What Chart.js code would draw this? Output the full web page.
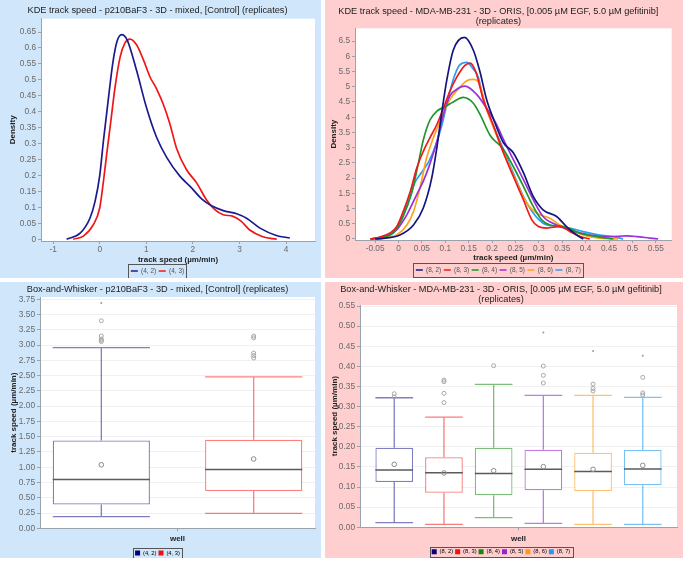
<!DOCTYPE html>
<html>
<head>
<meta charset="utf-8">
<script src="https://cdn.jsdelivr.net/npm/chart.js@4.4.1/dist/chart.umd.min.js"></script>
<style>
  body { margin: 0; width: 685px; height: 561px; background: #fff; position: relative; overflow: hidden; }
  .panel { position: absolute; }
  .blue { background: #cfe6fb; }
  .pink { background: #ffcece; }
  canvas { display: block; }
</style>
</head>
<body>
<div class="panel blue" style="left:0;top:0;width:321px;height:278px"><canvas id="kdeA" width="321" height="278"></canvas></div>
<div class="panel pink" style="left:325px;top:0;width:358px;height:278px"><canvas id="kdeB" width="358" height="278"></canvas></div>
<div class="panel blue" style="left:0;top:282px;width:321px;height:276px"><canvas id="boxA" width="321" height="276"></canvas></div>
<div class="panel pink" style="left:325px;top:282px;width:358px;height:276px"><canvas id="boxB" width="358" height="276"></canvas></div>
<script>
// ---------- data ----------
// KDE p210BaF3
const kdeA_wells = ['(4, 2)', '(4, 3)'];
const kdeA_x42 = [-0.71, -0.42, -0.21, -0.10, 0.0, 0.08, 0.19, 0.28, 0.37, 0.47, 0.59, 0.79, 1.0, 1.22, 1.44, 1.72, 1.94, 2.2, 2.4, 2.65, 2.94, 3.15, 3.44, 3.79, 4.08];
const kdeA_y42 = [0, 0.019, 0.066, 0.119, 0.2, 0.309, 0.446, 0.552, 0.62, 0.642, 0.625, 0.53, 0.415, 0.32, 0.256, 0.198, 0.166, 0.125, 0.105, 0.09, 0.08, 0.066, 0.035, 0.012, 0.004];
const kdeA_x43 = [-0.57, -0.35, -0.14, 0.0, 0.08, 0.15, 0.24, 0.33, 0.44, 0.54, 0.65, 0.79, 0.94, 1.08, 1.22, 1.36, 1.5, 1.65, 1.86, 2.08, 2.29, 2.47, 2.65, 2.86, 3.04, 3.22, 3.5, 3.8];
const kdeA_y43 = [0, 0.01, 0.045, 0.098, 0.182, 0.267, 0.372, 0.478, 0.573, 0.615, 0.628, 0.61, 0.562, 0.509, 0.472, 0.425, 0.365, 0.285, 0.219, 0.177, 0.124, 0.093, 0.077, 0.072, 0.056, 0.029, 0.008, 0];
const kdeA_xTicks = [-1, 0, 1, 2, 3, 4];
const kdeA_yTicks = [0, 0.05, 0.1, 0.15, 0.2, 0.25, 0.3, 0.35, 0.4, 0.45, 0.5, 0.55, 0.6, 0.65];

// KDE MDA-MB-231
const kdeB_wells = ['(8, 2)', '(8, 3)', '(8, 4)', '(8, 5)', '(8, 6)', '(8, 7)'];
const kdeB_x82 = [-0.05, -0.032, 0.003, 0.032, 0.053, 0.071, 0.082, 0.092, 0.103, 0.117, 0.141, 0.16, 0.174, 0.188, 0.203, 0.224, 0.245, 0.267, 0.288, 0.309, 0.338, 0.359, 0.381, 0.395];
const kdeB_y82 = [0, 0.02, 0.13, 0.46, 1.02, 2.0, 3.0, 4.1, 5.2, 6.2, 6.62, 6.2, 5.5, 4.6, 3.94, 3.17, 2.84, 2.18, 1.4, 0.96, 0.74, 0.41, 0.13, 0];
const kdeB_x83 = [-0.06, -0.043, -0.018, -0.004, 0.010, 0.025, 0.039, 0.053, 0.067, 0.082, 0.096, 0.11, 0.124, 0.142, 0.153, 0.165, 0.181, 0.203, 0.224, 0.245, 0.267, 0.285, 0.299, 0.317, 0.345, 0.366, 0.388, 0.409];
const kdeB_y83 = [0, 0.05, 0.2, 0.4, 0.9, 1.55, 2.33, 2.88, 3.32, 3.76, 4.3, 4.86, 5.3, 5.7, 5.78, 5.5, 4.6, 3.72, 2.84, 2.07, 1.29, 0.63, 0.41, 0.36, 0.41, 0.25, 0.08, 0];
const kdeB_x84 = [-0.06, -0.04, -0.011, 0.01, 0.028, 0.042, 0.053, 0.067, 0.082, 0.099, 0.117, 0.138, 0.16, 0.174, 0.196, 0.224, 0.245, 0.267, 0.288, 0.306, 0.324, 0.352, 0.388, 0.424, 0.459];
const kdeB_y84 = [0, 0.05, 0.2, 0.75, 1.5, 2.45, 3.25, 3.9, 4.2, 4.34, 4.5, 4.65, 4.46, 4.1, 3.4, 2.95, 2.39, 1.73, 1.07, 0.63, 0.46, 0.41, 0.19, 0.08, 0];
const kdeB_x85 = [-0.06, -0.04, -0.004, 0.018, 0.039, 0.053, 0.067, 0.082, 0.096, 0.11, 0.128, 0.142, 0.167, 0.188, 0.21, 0.224, 0.245, 0.267, 0.288, 0.309, 0.338, 0.366, 0.409, 0.452, 0.488, 0.509, 0.537, 0.555];
const kdeB_y85 = [0, 0.05, 0.3, 0.8, 1.46, 1.9, 2.46, 3.2, 4.1, 4.7, 4.95, 5.02, 4.75, 4.3, 3.75, 3.28, 2.62, 1.95, 1.29, 0.74, 0.46, 0.30, 0.13, 0.08, 0.1, 0.08, 0.03, 0];
const kdeB_x86 = [-0.06, -0.032, -0.004, 0.018, 0.032, 0.046, 0.06, 0.074, 0.092, 0.11, 0.128, 0.146, 0.16, 0.171, 0.188, 0.21, 0.231, 0.253, 0.274, 0.295, 0.324, 0.345, 0.374, 0.409, 0.438, 0.47];
const kdeB_y86 = [0, 0.03, 0.13, 0.46, 0.9, 1.68, 2.66, 3.3, 3.97, 4.58, 4.93, 5.2, 5.24, 5.16, 4.27, 3.39, 2.62, 1.84, 1.18, 0.85, 0.68, 0.46, 0.24, 0.08, 0.02, 0];
const kdeB_x87 = [-0.05, -0.03, 0.0, 0.02, 0.035, 0.05, 0.065, 0.08, 0.092, 0.103, 0.117, 0.131, 0.146, 0.16, 0.171, 0.181, 0.203, 0.224, 0.245, 0.267, 0.288, 0.309, 0.338, 0.366, 0.395, 0.43, 0.459, 0.48];
const kdeB_y87 = [0, 0.05, 0.4, 1.2, 1.85, 2.2, 2.55, 3.1, 3.7, 4.4, 5.24, 5.72, 5.8, 5.58, 5.3, 4.6, 3.72, 2.95, 2.18, 1.4, 0.85, 0.52, 0.41, 0.36, 0.24, 0.13, 0.08, 0];
const kdeB_xTicks = [-0.05, 0, 0.05, 0.1, 0.15, 0.2, 0.25, 0.3, 0.35, 0.4, 0.45, 0.5, 0.55];
const kdeB_yTicks = [0, 0.5, 1, 1.5, 2, 2.5, 3, 3.5, 4, 4.5, 5, 5.5, 6, 6.5];

// box-and-whisker p210BaF3
const boxA_wells = ['(4, 2)', '(4, 3)'];
const boxA_low = [0.19, 0.245];
const boxA_q1 = [0.39, 0.61];
const boxA_med = [0.80, 0.965];
const boxA_q3 = [1.44, 1.45];
const boxA_high = [2.96, 2.48];
const boxA_mean = [1.04, 1.135];
const boxA_out = [[3.06, 3.08, 3.1, 3.15, 3.4], [2.79, 2.83, 2.87, 3.12, 3.15]];
const boxA_far = [[3.69], []];
const boxA_yTicks = [0, 0.25, 0.5, 0.75, 1, 1.25, 1.5, 1.75, 2, 2.25, 2.5, 2.75, 3, 3.25, 3.5, 3.75];

// box-and-whisker MDA-MB-231
const boxB_wells = ['(8, 2)', '(8, 3)', '(8, 4)', '(8, 5)', '(8, 6)', '(8, 7)'];
const boxB_low = [0.0115, 0.0075, 0.024, 0.010, 0.0075, 0.0075];
const boxB_q1 = [0.1126, 0.086, 0.0795, 0.092, 0.0902, 0.1043];
const boxB_med = [0.1424, 0.1357, 0.134, 0.144, 0.139, 0.1449];
const boxB_q3 = [0.198, 0.174, 0.198, 0.193, 0.1855, 0.192];
const boxB_high = [0.322, 0.274, 0.3553, 0.328, 0.328, 0.323];
const boxB_mean = [0.1565, 0.135, 0.1407, 0.1507, 0.144, 0.154];
const boxB_out = [[0.324, 0.332], [0.31, 0.333, 0.362, 0.366], [0.4016], [0.3586, 0.3777, 0.4008], [0.3387, 0.345, 0.356], [0.3288, 0.334, 0.3727]];
const boxB_far = [[], [], [], [0.4845], [0.438], [0.4265]];
const boxB_yTicks = [0, 0.05, 0.1, 0.15, 0.2, 0.25, 0.3, 0.35, 0.4, 0.45, 0.5, 0.55];

// ---------- styling ----------
const kdeA_colors = ['#1b1b8f', '#f01616'];
const kdeB_colors = ['#15157f', '#ee1a1a', '#1f962a', '#9b30d9', '#ffa31a', '#2b9ef0'];
const boxA_solid = ['#000080', '#ee1111'];
const boxA_line = ['rgba(0,0,128,0.5)', 'rgba(255,0,0,0.5)'];
const boxB_solid = ['#000080', '#ee1111', '#118811', '#9922cc', '#ff9911', '#2299ee'];
const boxB_line = ['rgba(0,0,128,0.5)', 'rgba(238,17,17,0.55)', 'rgba(17,136,17,0.55)', 'rgba(153,34,204,0.6)', 'rgba(255,153,17,0.6)', 'rgba(34,153,238,0.6)'];

Chart.defaults.font.family = "'Liberation Sans', Arial, sans-serif";
Chart.defaults.animation = false;

const axisCol = '#9aa3ad';
const tickCol = '#6a6a6a';
const fmt = v => String(+Number(v).toFixed(3));
const fmt2 = v => Number(v).toFixed(2);
const zip = (xs, ys) => xs.map((x, i) => ({ x, y: ys[i] }));
const fixTicks = list => s => { s.ticks = list.map(v => ({ value: v })); };

const plotBg = {
  id: 'plotBg',
  beforeDraw(c) {
    const a = c.chartArea, ctx = c.ctx;
    ctx.save();
    ctx.fillStyle = '#fff';
    ctx.fillRect(a.left, a.top, a.right - a.left, a.bottom - a.top);
    ctx.restore();
  }
};

// frame around the legend entries
function legendFrame(padX, padY) {
  return {
    id: 'legendFrame',
    afterDraw(c) {
      const hb = c.legend && c.legend.legendHitBoxes;
      if (!hb || !hb.length) return;
      let l = Infinity, r = -Infinity, t = Infinity, b = -Infinity;
      hb.forEach(h => {
        l = Math.min(l, h.left); r = Math.max(r, h.left + h.width);
        t = Math.min(t, h.top); b = Math.max(b, h.top + h.height);
      });
      const ctx = c.ctx;
      ctx.save();
      ctx.strokeStyle = '#555';
      ctx.lineWidth = 1;
      ctx.strokeRect(Math.round(l - padX) + 0.5, Math.round(t - padY) + 0.5,
        Math.round(r - l + 2 * padX), Math.round(b - t + 2 * padY));
      ctx.restore();
    }
  };
}

// whiskers, medians, means and outliers drawn on top of the floating-bar boxes
function whiskerPlugin(st) {
  return {
    id: 'whiskers',
    afterDatasetsDraw(c) {
      const y = c.scales.y, ctx = c.ctx;
      const py = v => y.getPixelForValue(v);
      c.data.datasets.forEach((ds, i) => {
        const bar = c.getDatasetMeta(i).data[0];
        const cx = bar.x, hw = bar.width / 2;
        ctx.save();
        ctx.strokeStyle = ds.borderColor;
        ctx.lineWidth = 1.3;
        ctx.beginPath();
        ctx.moveTo(cx, py(st.low[i])); ctx.lineTo(cx, py(st.q1[i]));
        ctx.moveTo(cx, py(st.q3[i])); ctx.lineTo(cx, py(st.high[i]));
        ctx.moveTo(cx - hw, py(st.low[i])); ctx.lineTo(cx + hw, py(st.low[i]));
        ctx.moveTo(cx - hw, py(st.high[i])); ctx.lineTo(cx + hw, py(st.high[i]));
        ctx.stroke();
        ctx.strokeStyle = '#5a5a5a';
        ctx.lineWidth = 1.5;
        ctx.beginPath();
        ctx.moveTo(cx - hw, py(st.med[i])); ctx.lineTo(cx + hw, py(st.med[i]));
        ctx.stroke();
        ctx.strokeStyle = '#8c8c8c';
        ctx.lineWidth = 1;
        ctx.beginPath();
        ctx.arc(cx, py(st.mean[i]), 2.3, 0, Math.PI * 2);
        ctx.stroke();
        ctx.strokeStyle = '#a8a8a8';
        st.out[i].forEach(v => {
          ctx.beginPath();
          ctx.arc(cx, py(v), 2, 0, Math.PI * 2);
          ctx.stroke();
        });
        ctx.fillStyle = '#9a9a9a';
        st.far[i].forEach(v => {
          ctx.beginPath();
          ctx.arc(cx, py(v), 1, 0, Math.PI * 2);
          ctx.fill();
        });
        ctx.restore();
      });
    }
  };
}

function linearAxis(opts) {
  return {
    type: 'linear',
    min: opts.min, max: opts.max,
    afterBuildTicks: fixTicks(opts.ticks),
    afterFit: opts.fit,
    grid: {
      drawOnChartArea: !!opts.gridOn, color: '#f0f0f0', tickColor: axisCol,
      tickLength: 3, drawTicks: true
    },
    border: { display: true, color: axisCol },
    ticks: {
      autoSkip: false, maxRotation: 0, color: tickCol, padding: opts.tickPad,
      font: { size: 8.3 }, callback: opts.format
    },
    title: {
      display: !!opts.title, text: opts.title, color: '#222',
      font: { size: 8, weight: 'bold', lineHeight: 1 }, padding: opts.titlePad
    }
  };
}

function titleOpts(text, top, bottom) {
  return {
    display: true, text, color: '#222',
    font: { size: 9.2, weight: 'normal', lineHeight: 1.05 },
    padding: { top, bottom }
  };
}

function lineLegend() {
  return {
    position: 'bottom',
    labels: {
      usePointStyle: true, pointStyle: 'line', pointStyleWidth: 7,
      boxHeight: 6.5, padding: 2.5, color: '#555', font: { size: 6.5 }
    }
  };
}

function boxLegend(solid) {
  return {
    position: 'bottom',
    labels: {
      boxWidth: 5, boxHeight: 5, padding: 2, color: '#555', font: { size: 5.8 },
      generateLabels: c => c.data.datasets.map((d, i) => ({
        text: d.label, fillStyle: solid[i], strokeStyle: solid[i], lineWidth: 0, datasetIndex: i
      }))
    }
  };
}

function lineSet(label, xs, ys, color) {
  return {
    label, data: zip(xs, ys), borderColor: color, backgroundColor: color,
    borderWidth: 1.7, pointRadius: 0, fill: false, cubicInterpolationMode: 'monotone'
  };
}

// ---------- KDE p210BaF3 ----------
new Chart(document.getElementById('kdeA'), {
  type: 'line',
  data: {
    datasets: [
      lineSet(kdeA_wells[0], kdeA_x42, kdeA_y42, kdeA_colors[0]),
      lineSet(kdeA_wells[1], kdeA_x43, kdeA_y43, kdeA_colors[1])
    ]
  },
  options: {
    responsive: false,
    layout: { padding: { left: 0, right: 6, top: 0, bottom: -6.25 } },
    plugins: {
      title: titleOpts('KDE track speed - p210BaF3 - 3D - mixed, [Control] (replicates)', 6, 3),
      legend: lineLegend(),
      tooltip: { enabled: false }
    },
    scales: {
      x: linearAxis({ min: -1.26, max: 4.62, ticks: kdeA_xTicks, format: fmt, tickPad: 1,
        fit: s => { s.height = 24.25; }, title: 'track speed (µm/min)', titlePad: { top: 0, bottom: 1.5 } }),
      y: linearAxis({ min: -0.0054, max: 0.692, ticks: kdeA_yTicks, format: fmt, tickPad: 2,
        fit: s => { s.width = 41; }, title: 'Density', titlePad: { top: 9, bottom: 0 } })
    }
  },
  plugins: [plotBg, legendFrame(2.5, 3.5)]
});

// ---------- KDE MDA-MB-231 ----------
new Chart(document.getElementById('kdeB'), {
  type: 'line',
  data: {
    datasets: [
      lineSet(kdeB_wells[0], kdeB_x82, kdeB_y82, kdeB_colors[0]),
      lineSet(kdeB_wells[1], kdeB_x83, kdeB_y83, kdeB_colors[1]),
      lineSet(kdeB_wells[2], kdeB_x84, kdeB_y84, kdeB_colors[2]),
      lineSet(kdeB_wells[3], kdeB_x85, kdeB_y85, kdeB_colors[3]),
      lineSet(kdeB_wells[4], kdeB_x86, kdeB_y86, kdeB_colors[4]),
      lineSet(kdeB_wells[5], kdeB_x87, kdeB_y87, kdeB_colors[5])
    ]
  },
  options: {
    responsive: false,
    layout: { padding: { left: 0, right: 11.3, top: 0, bottom: -5.25 } },
    plugins: {
      title: titleOpts(['KDE track speed - MDA-MB-231 - 3D - ORIS, [0.005 µM EGF, 5.0 µM gefitinib]', '(replicates)'], 6.5, 2.5),
      legend: lineLegend(),
      tooltip: { enabled: false }
    },
    scales: {
      x: linearAxis({ min: -0.093, max: 0.584, ticks: kdeB_xTicks, format: fmt, tickPad: 1,
        fit: s => { s.height = 24.25; }, title: 'track speed (µm/min)', titlePad: { top: 0, bottom: 2 } }),
      y: linearAxis({ min: -0.033, max: 6.92, ticks: kdeB_yTicks, format: fmt, tickPad: 2,
        fit: s => { s.width = 30; }, title: 'Density', titlePad: { top: 4.5, bottom: 0 } })
    }
  },
  plugins: [plotBg, legendFrame(2.5, 3.5)]
});

// ---------- box plots ----------
function boxChart(id, wells, st, line, solid, cfg) {
  new Chart(document.getElementById(id), {
    type: 'bar',
    data: {
      labels: ['well'],
      datasets: wells.map((w, i) => ({
        label: w,
        data: [[st.q1[i], st.q3[i]]],
        backgroundColor: '#fff',
        borderColor: line[i],
        borderWidth: 1.3,
        borderSkipped: false
      }))
    },
    options: {
      responsive: false,
      categoryPercentage: cfg.catPct,
      barPercentage: cfg.barPct,
      layout: { padding: cfg.padding },
      plugins: {
        title: titleOpts(cfg.title, cfg.titlePad[0], cfg.titlePad[1]),
        legend: boxLegend(solid),
        tooltip: { enabled: false }
      },
      scales: {
        x: {
          type: 'category', offset: true,
          afterFit: s => { s.height = cfg.xHeight; },
          grid: { drawOnChartArea: false, offset: false, tickLength: 3, tickColor: axisCol },
          border: { display: true, color: axisCol },
          ticks: { display: false },
          title: { display: true, text: 'well', color: '#222',
            font: { size: 8, weight: 'bold', lineHeight: 1 }, padding: { top: 0, bottom: cfg.xTitlePad } }
        },
        y: linearAxis({ min: 0, max: cfg.yMax, ticks: cfg.yTicks, format: fmt2, tickPad: 2, gridOn: true,
          fit: s => { s.width = cfg.yWidth; }, title: 'track speed (µm/min)', titlePad: { top: cfg.yTitlePad, bottom: 0 } })
      }
    },
    plugins: [plotBg, legendFrame(2, 2), whiskerPlugin(st)]
  });
}

boxChart('boxA', boxA_wells,
  { low: boxA_low, q1: boxA_q1, med: boxA_med, q3: boxA_q3, high: boxA_high, mean: boxA_mean, out: boxA_out, far: boxA_far },
  boxA_line, boxA_solid,
  { title: 'Box-and-Whisker - p210BaF3 - 3D - mixed, [Control] (replicates)', titlePad: [3, 2.4],
    catPct: 1.108, barPct: 0.638, padding: { left: 0, right: 6, top: 0, bottom: -7.9 },
    xHeight: 19.8, xTitlePad: 5.3, yMax: 3.788, yTicks: boxA_yTicks, yWidth: 40, yTitlePad: 9.5 });

boxChart('boxB', boxB_wells,
  { low: boxB_low, q1: boxB_q1, med: boxB_med, q3: boxB_q3, high: boxB_high, mean: boxB_mean, out: boxB_out, far: boxB_far },
  boxB_line, boxB_solid,
  { title: ['Box-and-Whisker - MDA-MB-231 - 3D - ORIS, [0.005 µM EGF, 5.0 µM gefitinib]', '(replicates)'], titlePad: [3, 0.7],
    catPct: 0.9407, barPct: 0.7586, padding: { left: 0, right: 6, top: 0, bottom: -6.6 },
    xHeight: 19.5, xTitlePad: 4, yMax: 0.5525, yTicks: boxB_yTicks, yWidth: 35, yTitlePad: 6 });
</script>
</body>
</html>
